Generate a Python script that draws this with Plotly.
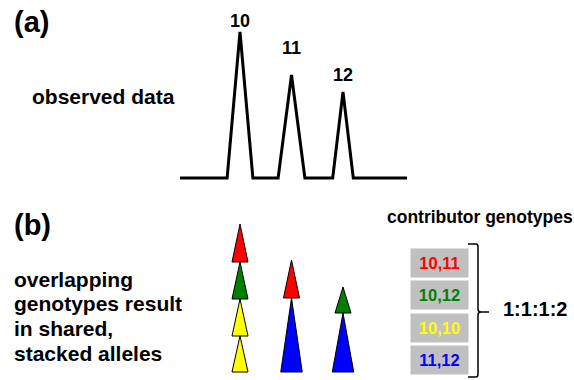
import plotly.graph_objects as go

# ---------------- data ----------------
alleles = [10, 11, 12]
peak_heights = [146, 103, 86]          # observed peak heights (arbitrary units)
peak_half_widths = [0.25, 0.26, 0.20]  # half base width of each peak (allele units)
label_gaps = [11, 27, 17]              # gap between apex and its label
baseline_start, baseline_end = 8.835, 13.243

genotypes = ["10,11", "10,12", "10,10", "11,12"]
genotype_colors = ["#ff0000", "#008000", "#ffff00", "#0000ff"]
mixture_ratio = "1:1:1:2"

# stacked contributions per allele: (genotype index, height), bottom to top
stacks = {
    10: [(2, 36), (2, 37), (1, 37), (0, 38)],
    11: [(3, 74), (0, 38)],
    12: [(3, 59), (1, 26)],
}
stack_widths = {0: 0.311, 1: 0.311, 2: 0.311, 3: 0.417}

W, H = 574, 380
FONT = "Liberation Sans, Arial, sans-serif"

fig = go.Figure()

# ---------------- (a) observed data ----------------
px_list = [baseline_start]
py_list = [0]
for a, h, hw in zip(alleles, peak_heights, peak_half_widths):
    px_list += [a - hw, a, a + hw]
    py_list += [0, h, 0]
px_list.append(baseline_end)
py_list.append(0)
fig.add_trace(go.Scatter(x=px_list, y=py_list, mode="lines",
                         line=dict(color="black", width=3),
                         xaxis="x", yaxis="y", hoverinfo="skip", showlegend=False))

for a, h, g in zip(alleles, peak_heights, label_gaps):
    fig.add_annotation(x=a, y=h + g, xref="x", yref="y", text="<b>%d</b>" % a,
                       showarrow=False, font=dict(size=18, color="black", family=FONT),
                       xanchor="center", yanchor="middle")

# ---------------- (b) stacked alleles ----------------
for a in alleles:
    base = 0
    for gi, hgt in stacks[a]:
        w = stack_widths[gi]
        fig.add_trace(go.Scatter(
            x=[a - w / 2, a, a + w / 2, a - w / 2],
            y=[base, base + hgt, base, base],
            mode="lines", fill="toself", fillcolor=genotype_colors[gi],
            line=dict(color="black", width=1),
            xaxis="x", yaxis="y2", hoverinfo="skip", showlegend=False))
        base += hgt


def pxx(x):
    return x / W


def pyy(y):
    return 1 - y / H


def text(x, y, s, size, color="black", xanchor="center", **kw):
    fig.add_annotation(x=pxx(x), y=pyy(y), xref="paper", yref="paper", text=s,
                       showarrow=False, font=dict(size=size, color=color, family=FONT),
                       xanchor=xanchor, yanchor="middle", **kw)


text(12, 22, "<b>(a)</b>", 29, xanchor="left")
text(30, 96, "<b>observed data</b>", 21, xanchor="left")
text(12, 225, "<b>(b)</b>", 29, xanchor="left")
for i, line in enumerate(["overlapping", "genotypes result", "in shared,", "stacked alleles"]):
    text(12, 279 + i * 24.7, "<b>%s</b>" % line, 21, xanchor="left")

text(480, 217, "<b>contributor genotypes</b>", 17.5)

box_centers = [263, 294.5, 328, 359.5]
for g, c, yc in zip(genotypes, genotype_colors, box_centers):
    text(439.5, yc, "<b>%s</b>" % g, 16.5, color=c, bgcolor="#c0c0c0",
         width=55, height=26, borderpad=1)

text(535, 309, "<b>%s</b>" % mixture_ratio, 20)

# bracket
bx, top, bot, mid = 478, 244, 377, 312
path = (f"M {pxx(468)},{pyy(top)} L {pxx(bx - 2)},{pyy(top)} Q {pxx(bx)},{pyy(top)} {pxx(bx)},{pyy(top + 3)} "
        f"L {pxx(bx)},{pyy(mid - 3)} Q {pxx(bx)},{pyy(mid)} {pxx(bx + 3)},{pyy(mid)} L {pxx(489)},{pyy(mid)} "
        f"M {pxx(bx + 3)},{pyy(mid)} Q {pxx(bx)},{pyy(mid)} {pxx(bx)},{pyy(mid + 3)} "
        f"L {pxx(bx)},{pyy(bot - 3)} Q {pxx(bx)},{pyy(bot)} {pxx(bx - 2)},{pyy(bot)} L {pxx(468)},{pyy(bot)}")
fig.add_shape(type="path", path=path, xref="paper", yref="paper",
              line=dict(color="black", width=1.5))

fig.update_layout(
    width=W, height=H, autosize=False,
    margin=dict(l=0, r=0, t=0, b=0),
    paper_bgcolor="white", plot_bgcolor="white",
    xaxis=dict(range=[10 - 240 / 51.5, 10 + 334 / 51.5], domain=[0, 1], visible=False, fixedrange=True),
    yaxis=dict(range=[-202, 178], domain=[0, 1], visible=False, fixedrange=True),
    yaxis2=dict(range=[-8, 372], domain=[0, 1], overlaying="y", visible=False, fixedrange=True),
    showlegend=False,
)

fig.write_html("out.html", config={"displayModeBar": False, "staticPlot": True},
               post_script="document.body.style.margin='0';document.body.style.overflow='hidden';")
